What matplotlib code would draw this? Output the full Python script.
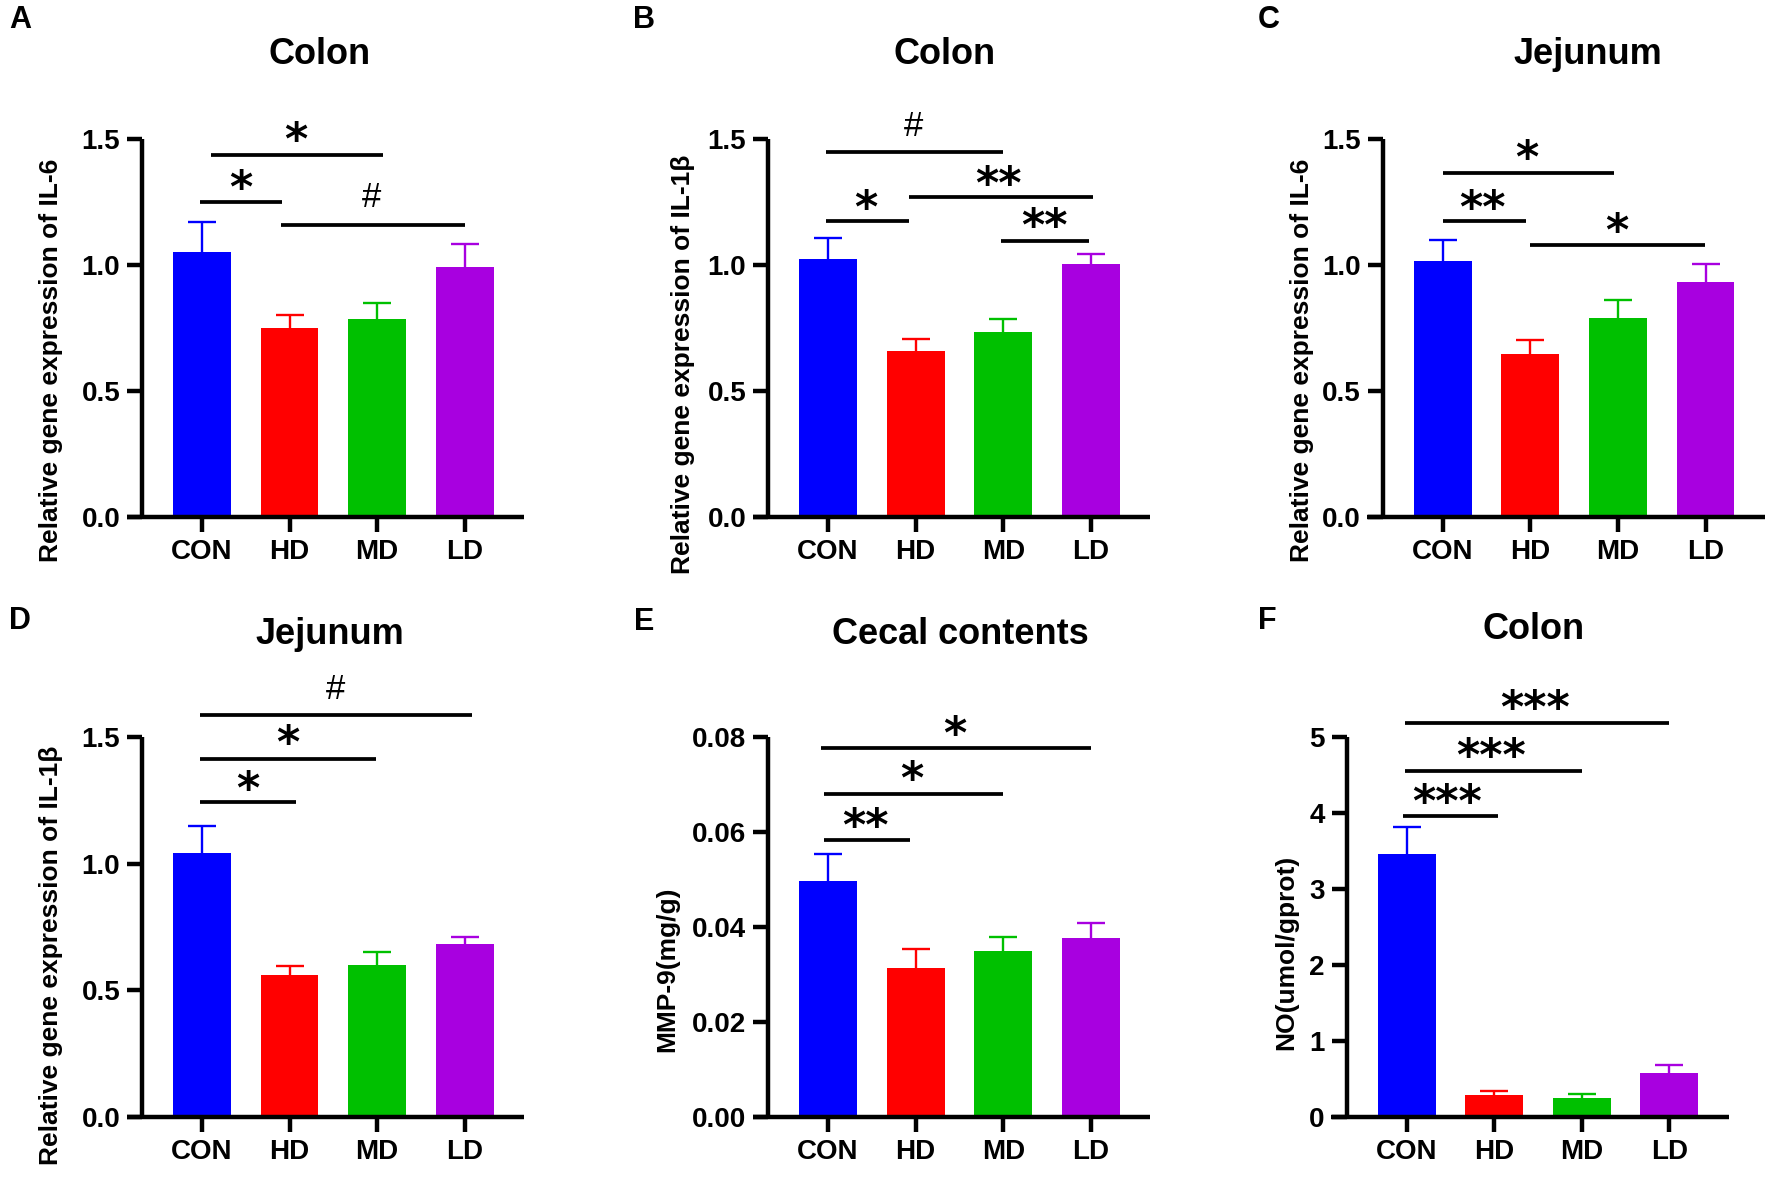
import matplotlib
matplotlib.use("Agg")
import matplotlib.pyplot as plt
import numpy as np

# Gruppen und Balkenfarben
gruppen = ["CON", "HD", "MD", "LD"]
farben = ["#0000ff", "#ff0000", "#00c000", "#a800e0"]

# Mittelwerte und obere Fehlergrenzen
a_mittel = [1.05, 0.75, 0.785, 0.99]
a_oben = [1.17, 0.80, 0.85, 1.085]
b_mittel = [1.024, 0.659, 0.734, 1.002]
b_oben = [1.107, 0.705, 0.784, 1.045]
c_mittel = [1.015, 0.648, 0.79, 0.932]
c_oben = [1.098, 0.703, 0.862, 1.002]
d_mittel = [1.042, 0.562, 0.599, 0.682]
d_oben = [1.150, 0.598, 0.653, 0.711]
e_mittel = [0.0497, 0.0314, 0.035, 0.0377]
e_oben = [0.0553, 0.0353, 0.038, 0.0408]
f_mittel = [3.46, 0.29, 0.25, 0.58]
f_oben = [3.82, 0.34, 0.30, 0.68]

# Signifikanzlinien: (x_start, x_ende, y_linie, zeichen, x_text, y_text)
a_sig = [(-0.02, 0.91, 1.248, "*", 0.44, 1.35),
         (0.10, 2.07, 1.435, "*", 1.07, 1.54),
         (0.90, 3.00, 1.159, "#", 1.94, 1.28)]
b_sig = [(-0.02, 2.00, 1.447, "#", 0.98, 1.56),
         (-0.02, 0.93, 1.173, "*", 0.43, 1.27),
         (0.93, 3.02, 1.268, "**", 1.95, 1.367),
         (1.98, 2.98, 1.097, "**", 2.47, 1.20)]
c_sig = [(0.00, 1.95, 1.367, "*", 0.96, 1.47),
         (0.00, 0.95, 1.173, "**", 0.45, 1.27),
         (0.99, 2.99, 1.078, "*", 1.99, 1.18)]
d_sig = [(-0.02, 3.08, 1.587, "#", 1.53, 1.70),
         (-0.02, 1.99, 1.415, "*", 0.98, 1.52),
         (-0.02, 1.07, 1.244, "*", 0.52, 1.34)]
e_sig = [(-0.08, 3.00, 0.0777, "*", 1.45, 0.083),
         (-0.05, 2.00, 0.068, "*", 0.96, 0.0735),
         (-0.05, 0.94, 0.0584, "**", 0.43, 0.0637)]
f_sig = [(-0.02, 3.00, 5.19, "***", 1.47, 5.53),
         (-0.02, 2.00, 4.56, "***", 0.96, 4.90),
         (-0.04, 1.04, 3.96, "***", 0.46, 4.30)]

# Achsenbeschriftungen
a_ticks = [0.0, 0.5, 1.0, 1.5]
e_ticks = [0.00, 0.02, 0.04, 0.06, 0.08]
f_ticks = [0, 1, 2, 3, 4, 5]

panels = [
    dict(buchstabe="A", titel="Colon", ylabel="Relative gene expression of IL-6",
         mittel=a_mittel, oben=a_oben, sig=a_sig, ticks=a_ticks, fmt="{:.1f}"),
    dict(buchstabe="B", titel="Colon", ylabel="Relative gene expression of IL-1β",
         mittel=b_mittel, oben=b_oben, sig=b_sig, ticks=a_ticks, fmt="{:.1f}"),
    dict(buchstabe="C", titel="Jejunum", ylabel="Relative gene expression of IL-6",
         mittel=c_mittel, oben=c_oben, sig=c_sig, ticks=a_ticks, fmt="{:.1f}"),
    dict(buchstabe="D", titel="Jejunum", ylabel="Relative gene expression of IL-1β",
         mittel=d_mittel, oben=d_oben, sig=d_sig, ticks=a_ticks, fmt="{:.1f}"),
    dict(buchstabe="E", titel="Cecal contents", ylabel="MMP-9(mg/g)",
         mittel=e_mittel, oben=e_oben, sig=e_sig, ticks=e_ticks, fmt="{:.2f}"),
    dict(buchstabe="F", titel="Colon", ylabel="NO(umol/gprot)",
         mittel=f_mittel, oben=f_oben, sig=f_sig, ticks=f_ticks, fmt="{:d}"),
]

# Layout in Pixeln einer 1568x1042-Ansicht
W, H = 1568.0, 1042.0
achse_x = [126, 680, 1224, 126, 680, 1192]
reihe_y = [(457, 123), (457, 123), (457, 123), (988, 652), (988, 652), (988, 652)]
titel_pos = [(283, 48), (836, 48), (1405, 48), (292, 561), (850, 561), (1357, 557)]
buchst_pos = [(18, 18), (570, 18), (1123, 18), (18, 549), (570, 550), (1121, 549)]
ylabel_pos = [(45, 319), (604, 322), (1152, 319), (45, 845), (590, 857), (1138, 842)]
abstand = 77.5

plt.rcParams["font.family"] = ["Liberation Sans", "DejaVu Sans"]
plt.rcParams["font.weight"] = "bold"

fig = plt.figure(figsize=(17.72, 11.78), dpi=100)


def fx(px):
    return px / W


def fy(py):
    return 1 - py / H


for i, p in enumerate(panels):
    unten, oben = reihe_y[i]
    links = achse_x[i] - 0.18 * abstand
    breite = 4.54 * abstand
    ax = fig.add_axes([fx(links), fy(unten), breite / W, (unten - oben) / H])

    x = np.arange(len(gruppen))
    ax.bar(x, p["mittel"], width=0.66, color=farben, zorder=2)
    # nur obere Fehlerbalken, wie in GraphPad
    ax.vlines(x, p["mittel"], p["oben"], colors=farben, lw=1.7, zorder=1)
    ax.hlines(p["oben"], x - 0.16, x + 0.16, colors=farben, lw=1.7, zorder=1)

    ax.set_xlim(-0.86, 3.68)
    ax.set_ylim(0, p["ticks"][-1])
    ax.spines["left"].set_position(("data", -0.68))
    ax.spines["top"].set_visible(False)
    ax.spines["right"].set_visible(False)
    for s in ["left", "bottom"]:
        ax.spines[s].set_linewidth(3.2)
        ax.spines[s].set_capstyle("butt")
    ax.tick_params(direction="out", length=11, width=3.2, labelsize=20, pad=5)
    ax.set_xticks(x)
    ax.set_xticklabels(gruppen, fontweight="bold")
    ax.set_yticks(p["ticks"])
    ax.set_yticklabels([p["fmt"].format(t) for t in p["ticks"]], fontweight="bold")

    # Signifikanzmarkierungen
    for x0, x1, yl, zeichen, xt, yt in p["sig"]:
        ax.plot([x0, x1], [yl, yl], color="black", lw=2.7, clip_on=False,
                solid_capstyle="butt")
        if zeichen == "#":
            ax.annotate(zeichen, xy=(xt, yt), xytext=(0, -0.36 * 25),
                        textcoords="offset points", ha="center", va="baseline",
                        fontsize=25, fontweight="normal", annotation_clip=False)
        else:
            ax.annotate(zeichen, xy=(xt, yt), xytext=(0, -0.57 * 32),
                        textcoords="offset points", ha="center", va="baseline",
                        fontsize=32, fontweight="bold", family="DejaVu Sans",
                        annotation_clip=False)

    tx, ty = titel_pos[i]
    fig.text(fx(tx), fy(ty), p["titel"], ha="center", va="center",
             fontsize=26, fontweight="bold")
    bx, by = buchst_pos[i]
    fig.text(fx(bx), fy(by), p["buchstabe"], ha="center", va="center",
             fontsize=22, fontweight="bold")
    lx, ly = ylabel_pos[i]
    fig.text(fx(lx), fy(ly), p["ylabel"], ha="center", va="center",
             rotation=90, fontsize=19, fontweight="bold")

fig.savefig("out.png", dpi=100)
